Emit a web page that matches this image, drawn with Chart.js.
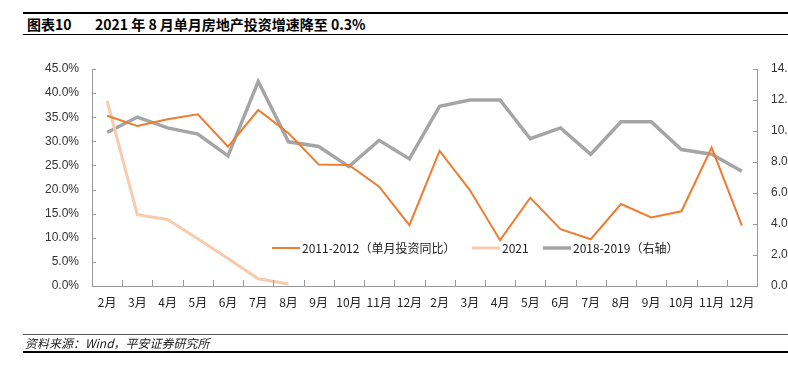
<!DOCTYPE html>
<html lang="zh">
<head>
  <meta charset="UTF-8" />
  <title>图表10</title>
  <script src="https://cdn.jsdelivr.net/npm/chart.js"></script>
  <style>
    html, body { margin: 0; padding: 0; background: #fff; overflow: hidden; width: 788px; height: 372px; }
    .wrap { position: relative; width: 788px; height: 372px; overflow: hidden; }
    .title { position: absolute; left: 23px; top: 12px; width: 780px; height: 23px;
             border-top: 2px solid #000; border-bottom: 1.5px solid #000; box-sizing: border-box;
             font: bold 14px "Noto Sans CJK SC", sans-serif; color: #000; line-height: 20px; }
    .title span.num { display: inline-block; margin-left: 4px; width: 68px; }
    .source { position: absolute; left: 23px; top: 334px; width: 780px; height: 19px;
              border-top: 1.5px solid #555; border-bottom: 2px solid #000; box-sizing: border-box;
              font: italic 12px "Noto Sans CJK SC", sans-serif; color: #222; line-height: 16px; padding-left: 2px; }
    canvas { position: absolute; left: 0; top: 0; }
  </style>
</head>
<body>
<div class="wrap">
  <div class="title"><span class="num">图表10</span>2021 年 8 月单月房地产投资增速降至 0.3%</div>
  <div style="position:absolute;left:0;top:0;width:800px;height:372px;">
    <canvas id="chart" width="800" height="372"></canvas>
  </div>
  <div class="source">资料来源：Wind，平安证券研究所</div>
</div>

<script>
  // categories: 2月..12月 twice
  const months = ['2月','3月','4月','5月','6月','7月','8月','9月','10月','11月','12月'];
  const labels = months.concat(months);

  // 2011-2012 单月投资同比 (%)
  const s2011 = [35.3, 33.2, 34.6, 35.6, 28.9, 36.5, 31.7, 25.2, 25.1, 20.6, 12.6,
                 28.0, 19.9, 9.5, 18.3, 11.8, 9.7, 17.0, 14.2, 15.5, 28.7, 12.5];
  // 2021 (%)
  const s2021 = [38.4, 14.8, 13.8, 9.8, 5.7, 1.5, 0.4];
  // 2018-2019 (right axis)
  const s2018 = [9.9, 10.9, 10.2, 9.8, 8.4, 13.2, 9.3, 9.0, 7.7, 9.4, 8.2,
                 11.6, 12.0, 12.0, 9.5, 10.2, 8.5, 10.6, 10.6, 8.8, 8.5, 7.4];

  const leftTicks = [0, 5, 10, 15, 20, 25, 30, 35, 40, 45];
  const rightTicks = [0, 2, 4, 6, 8, 10, 12, 14];

  const orange = '#ED7D31';
  const lightOrange = '#F8CBAD';
  const gray = '#A5A5A5';
  const axisColor = '#999';

  // tick marks pointing into the plot, like the original
  const innerTicks = {
    id: 'innerTicks',
    afterDraw(chart) {
      const ctx = chart.ctx;
      const { x, y, y2 } = chart.scales;
      ctx.save();
      ctx.strokeStyle = axisColor;
      ctx.lineWidth = 1;
      ctx.beginPath();
      y.ticks.forEach(t => {
        const py = Math.round(y.getPixelForValue(t.value)) + 0.5;
        ctx.moveTo(y.right, py); ctx.lineTo(y.right + 4, py);
      });
      y2.ticks.forEach(t => {
        const py = Math.round(y2.getPixelForValue(t.value)) + 0.5;
        ctx.moveTo(y2.left, py); ctx.lineTo(y2.left - 4, py);
      });
      const step = x.getPixelForValue(1) - x.getPixelForValue(0);
      for (let i = 1; i < labels.length; i++) {
        const px = Math.round(x.getPixelForValue(i) - step / 2) + 0.5;
        ctx.moveTo(px, x.top); ctx.lineTo(px, x.top - 6);
      }
      ctx.stroke();
      ctx.restore();
    }
  };

  // legend drawn inside the plot area
  const innerLegend = {
    id: 'innerLegend',
    afterDraw(chart) {
      const ctx = chart.ctx;
      const items = [
        { x: 272, color: orange, w: 2, text: '2011-2012（单月投资同比）' },
        { x: 472, color: lightOrange, w: 3, text: '2021' },
        { x: 543, color: gray, w: 3.5, text: '2018-2019（右轴）' }
      ];
      const yy = 248;
      ctx.save();
      ctx.font = '12px "Noto Sans CJK SC", sans-serif';
      ctx.textBaseline = 'middle';
      ctx.fillStyle = '#222';
      items.forEach(it => {
        ctx.strokeStyle = it.color;
        ctx.lineWidth = it.w;
        ctx.beginPath();
        ctx.moveTo(it.x, yy);
        ctx.lineTo(it.x + 28, yy);
        ctx.stroke();
        ctx.fillText(it.text, it.x + 30, yy);
      });
      ctx.restore();
    }
  };

  new Chart(document.getElementById('chart'), {
    type: 'line',
    data: {
      labels: labels,
      datasets: [
        { label: '2018-2019（右轴）', data: s2018, yAxisID: 'y2', borderColor: gray, borderWidth: 3.5,
          pointRadius: 0, tension: 0, order: 3 },
        { label: '2021', data: s2021, yAxisID: 'y', borderColor: lightOrange, borderWidth: 3,
          pointRadius: 0, tension: 0, order: 2 },
        { label: '2011-2012（单月投资同比）', data: s2011, yAxisID: 'y', borderColor: orange, borderWidth: 2,
          pointRadius: 0, tension: 0, order: 1 }
      ]
    },
    options: {
      responsive: false,
      animation: false,
      layout: { padding: { top: 69, left: 0, right: 0, bottom: 0 } },
      plugins: { legend: { display: false }, tooltip: { enabled: false } },
      scales: {
        x: {
          offset: true,
          grid: { offset: true, drawOnChartArea: false, drawTicks: false },
          border: { color: axisColor },
          ticks: { color: '#222', font: { size: 12, family: '"Noto Sans CJK SC", sans-serif' },
                   padding: 9, maxRotation: 0, autoSkip: false },
          afterFit(s) { s.height = 86; }
        },
        y: {
          position: 'left',
          min: 0, max: 45,
          afterBuildTicks(s) { s.ticks = leftTicks.map(v => ({ value: v })); },
          grid: { drawOnChartArea: false, drawTicks: false },
          border: { color: axisColor },
          ticks: { color: '#333', font: { size: 12, family: '"Liberation Sans", sans-serif' }, padding: 13,
                   callback: v => v.toFixed(1) + '%' },
          afterFit(s) { s.width = 92; }
        },
        y2: {
          position: 'right',
          min: 0, max: 14,
          afterBuildTicks(s) { s.ticks = rightTicks.map(v => ({ value: v })); },
          grid: { drawOnChartArea: false, drawTicks: false },
          border: { color: axisColor },
          ticks: { color: '#333', font: { size: 12, family: '"Liberation Sans", sans-serif' }, padding: 14,
                   callback: v => v.toFixed(1) },
          afterFit(s) { s.width = 43; }
        }
      }
    },
    plugins: [innerTicks, innerLegend]
  });
</script>
</body>
</html>
